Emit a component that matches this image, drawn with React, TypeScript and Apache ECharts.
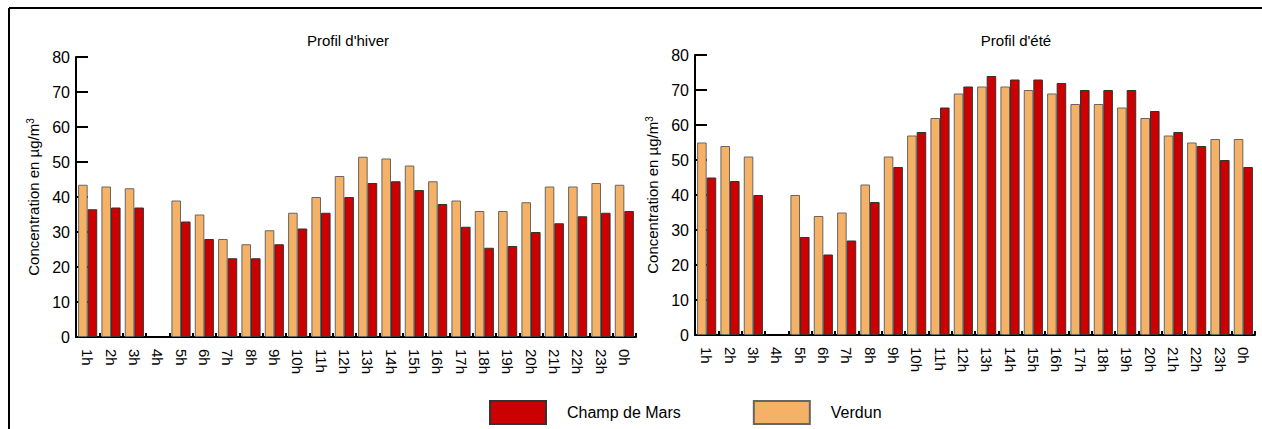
import React, { useEffect, useRef } from "react";
import * as echarts from "echarts";

const hours = ["1h","2h","3h","4h","5h","6h","7h","8h","9h","10h","11h","12h","13h","14h","15h","16h","17h","18h","19h","20h","21h","22h","23h","0h"];

const winterVerdun = [43.5,43,42.5,null,39,35,28,26.5,30.5,35.5,40,46,51.5,51,49,44.5,39,36,36,38.5,43,43,44,43.5];
const winterChamp = [36.5,37,37,null,33,28,22.5,22.5,26.5,31,35.5,40,44,44.5,42,38,31.5,25.5,26,30,32.5,34.5,35.5,36];

const summerVerdun = [55,54,51,null,40,34,35,43,51,57,62,69,71,71,70,69,66,66,65,62,57,55,56,56];
const summerChamp = [45,44,40,null,28,23,27,38,48,58,65,71,74,73,73,72,70,70,70,64,58,54,50,48];

const yTicks = [0, 10, 20, 30, 40, 50, 60, 70, 80];
const titles = ["Profil d'hiver", "Profil d'été"];
const seriesNames = ["Champ de Mars", "Verdun"];

const FONT = "'Liberation Sans', Arial, Helvetica, sans-serif";
const RED = "#CC0000";
const ORANGE = "#F5B266";

export default function App() {
  const ref = useRef<HTMLDivElement>(null);
  useEffect(() => {
    if (!ref.current) return;
    const chart = echarts.init(ref.current, null, { renderer: "svg" });
    const grids = [
      { left: 76, top: 57, width: 560, height: 280 },
      { left: 695, top: 55, width: 560, height: 280 },
    ];
    const xAxes = grids.map((_, i) => ({
      type: "category",
      gridIndex: i,
      data: hours,
      axisLine: { lineStyle: { color: "#000", width: 2 } },
      axisTick: { show: true, inside: true, length: 4, lineStyle: { color: "#000", width: 2 } },
      axisLabel: { rotate: -90, color: "#000", fontSize: 15, fontFamily: FONT, margin: 12, interval: 0 },
      splitLine: { show: false },
    }));
    const yAxes = grids.map((_, i) => ({
      type: "value",
      gridIndex: i,
      min: yTicks[0],
      max: yTicks[yTicks.length - 1],
      interval: 10,
      name: "Concentration en µg/m{sup|3}",
      nameLocation: "middle",
      nameGap: 34,
      nameTextStyle: {
        color: "#000",
        fontSize: 15,
        fontFamily: FONT,
        rich: { sup: { fontSize: 10, verticalAlign: "top", padding: [0, 0, 7, 0], color: "#000", fontFamily: FONT } },
      },
      axisLine: { show: true, lineStyle: { color: "#000", width: 2 } },
      axisTick: { show: true, inside: true, length: 12, lineStyle: { color: "#000", width: 2 } },
      axisLabel: { color: "#000", fontSize: 16, fontFamily: FONT, margin: 6 },
      splitLine: { show: false },
    }));
    const barBase = { type: "bar", barGap: "0%", barCategoryGap: "18%" };
    const option = {
      animation: false,
      backgroundColor: "#fff",
      grid: grids,
      xAxis: xAxes,
      yAxis: yAxes,
      legend: {
        data: seriesNames,
        left: 489,
        top: 400,
        padding: 0,
        itemWidth: 56,
        itemHeight: 23,
        itemGap: 72,
        icon: "rect",
        selectedMode: false,
        textStyle: { color: "#000", fontSize: 16, fontFamily: FONT, padding: [0, 0, 0, 16] },
      },
      graphic: [
        { type: "line", shape: { x1: 9, y1: 8, x2: 1262, y2: 8 }, style: { stroke: "#000", lineWidth: 2 } },
        { type: "line", shape: { x1: 9, y1: 8, x2: 9, y2: 429 }, style: { stroke: "#000", lineWidth: 2 } },
        { type: "text", x: 348, y: 40, style: { text: titles[0], align: "center", verticalAlign: "middle", fontSize: 15, fontFamily: FONT, fill: "#000" } },
        { type: "text", x: 1016, y: 40, style: { text: titles[1], align: "center", verticalAlign: "middle", fontSize: 15, fontFamily: FONT, fill: "#000" } },
      ],
      series: [
        { ...barBase, name: seriesNames[1], xAxisIndex: 0, yAxisIndex: 0, data: winterVerdun, itemStyle: { color: ORANGE, borderColor: "#666", borderWidth: 1 } },
        { ...barBase, name: seriesNames[0], xAxisIndex: 0, yAxisIndex: 0, data: winterChamp, itemStyle: { color: RED, borderColor: "#333", borderWidth: 1 } },
        { ...barBase, name: seriesNames[1], xAxisIndex: 1, yAxisIndex: 1, data: summerVerdun, itemStyle: { color: ORANGE, borderColor: "#666", borderWidth: 1 } },
        { ...barBase, name: seriesNames[0], xAxisIndex: 1, yAxisIndex: 1, data: summerChamp, itemStyle: { color: RED, borderColor: "#333", borderWidth: 1 } },
      ],
    };
    chart.setOption(option as any);
    return () => chart.dispose();
  }, []);
  return (
    <div
      ref={ref}
      style={{ position: "absolute", left: 0, top: 0, width: 1262, height: 429 }}
    />
  );
}
